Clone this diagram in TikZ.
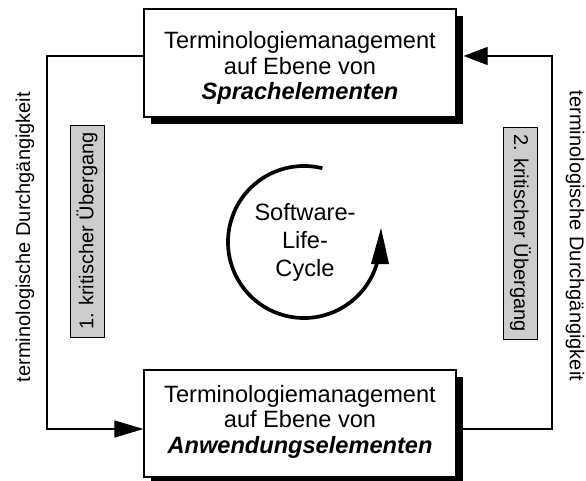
\documentclass[tikz,border=0pt]{standalone}
\usepackage{fontspec}
\setmainfont{Liberation Sans}
\usetikzlibrary{arrows.meta,shadows}
\definecolor{boxgray}{HTML}{CCCCCC}
\begin{document}
\begin{tikzpicture}[x=1pt,y=-1pt,
  mainbox/.style={draw,fill=white,line width=1.2pt,minimum width=312pt,
    minimum height=108pt,align=center,inner sep=0pt,
    font=\fontsize{23.6}{25.5}\selectfont,
    drop shadow={shadow xshift=7pt,shadow yshift=-7pt,fill=black,opacity=1}},
  sidelabel/.style={font=\fontsize{20}{24}\selectfont,inner sep=0pt},
  graybox/.style={draw,fill=boxgray,line width=0.8pt,minimum width=212pt,
    minimum height=34pt,inner sep=0pt,font=\fontsize{20}{24}\selectfont},
  conn/.style={line width=1.1pt},
  cyclearc/.style={line width=3.7pt},
]
\useasboundingbox (0,0) rectangle (586,481);

% boxes
\node[mainbox] (top) at (300,63)
  {\rule{0pt}{27pt}Terminologiemanagement\\auf Ebene von\\\textbf{\textit{Sprachelementen}}};
\node[mainbox,minimum height=107pt] (bot) at (300,423.5)
  {Terminologiemanagement\\auf Ebene von\\\textbf{\textit{Anwendungselementen}}\rule[-9pt]{0pt}{9pt}};

% connector corners
\coordinate (lt) at (47,56);
\coordinate (lb) at (47,429);
\coordinate (rt) at (552,56);
\coordinate (rb) at (552,429);

\draw[conn,-{Triangle[length=29pt,width=17pt]}]
  (top.west |- lt) -- (lt) -- (lb) -- (bot.west |- lb);
\draw[conn,-{Triangle[length=24pt,width=18pt]}]
  (bot.east |- rb) -- (rb) -- (rt) -- ([xshift=7pt]top.east |- rt);

% side labels
\node[sidelabel,rotate=90] (tdl) at (25,237) {terminologische Durchgängigkeit};
\node[graybox,rotate=90] (k1) at (87,231) {1. kritischer Übergang};
\node[graybox,rotate=-90] (k2) at (520.5,233) {2. kritischer Übergang};
\node[sidelabel,rotate=-90] (tdr) at (575,236) {terminologische Durchgängigkeit};

% life cycle
\node[align=center,inner sep=0pt,font=\fontsize{23.6}{28}\selectfont] (slc) at (305,242)
  {Software-\\Life-\\Cycle};
\draw[cyclearc] (304,242) ++(-76:76) arc (-76:-345:76);
\fill (371,264) -- (389,264) -- (381,228) -- cycle;
\end{tikzpicture}
\end{document}
